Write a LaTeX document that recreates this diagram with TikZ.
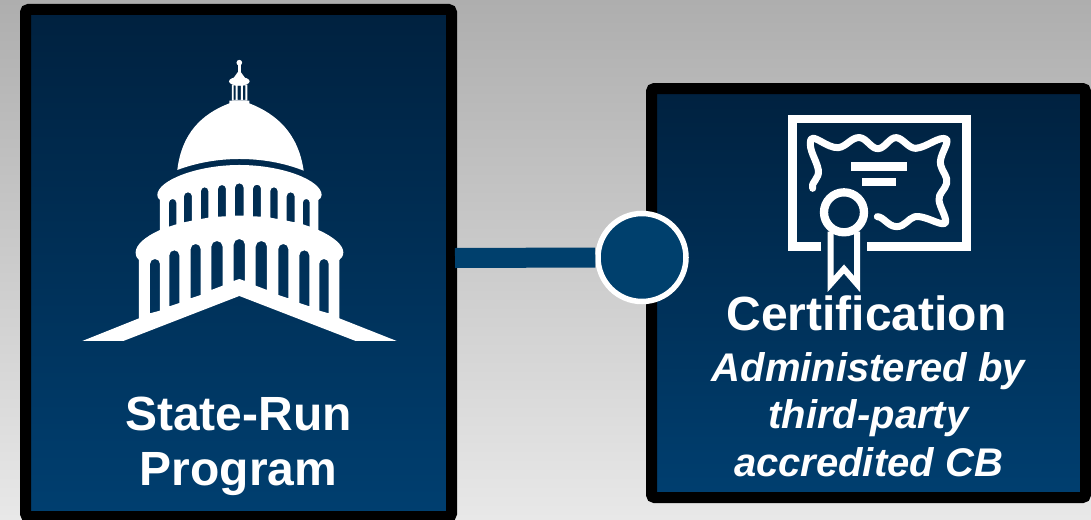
\documentclass[tikz,border=0pt]{standalone}
\usepackage{fontspec}
\setmainfont{Liberation Sans}
\definecolor{boxtop}{HTML}{00213F}
\definecolor{boxbot}{HTML}{003F70}
\definecolor{linkblue}{HTML}{00406D}
\definecolor{bgtop}{HTML}{AEAEAE}
\definecolor{bgbot}{HTML}{E8E8E8}
\tikzset{
  panel/.style={rectangle,draw=black,line width=11pt,rounded corners=3pt,top color=boxtop,bottom color=boxbot,inner sep=0pt},
  hub/.style={circle,draw=white,line width=5.5pt,fill=linkblue,minimum size=88pt,inner sep=0pt},
  link/.style={draw=linkblue,line width=20pt},
  bigtxt/.style={text=white,font=\fontsize{48}{54}\selectfont\bfseries,align=center,anchor=base},
  subtxt/.style={text=white,font=\fontsize{40}{47.5}\selectfont\bfseries\itshape,align=center,anchor=base},
  glyph/.style={white,line width=#1pt},
}
\newcommand{\archwin}[5]{% cx, top, halfwidth, bottom-left, bottom-right
  (#1-#3,#4) -- (#1-#3,#2+#3) arc[start angle=180,end angle=360,radius=#3] -- (#1+#3,#5) -- cycle }
\begin{document}
\begin{tikzpicture}[x=1pt,y=-1pt]
\useasboundingbox (0,0) rectangle (1091,519);
\clip (0,0) rectangle (1091,519);
\shade[top color=bgtop,bottom color=bgbot] (0,0) rectangle (1091,519);
\node[panel,minimum width=426pt,minimum height=507pt] (state) at (238.5,263) {};
\node[panel,minimum width=434pt,minimum height=409pt] (cert) at (868.5,293) {};
\node[hub] (dot) at (642,257.5) {};
\draw[link] ([xshift=-2pt]state.east |- 0,258) coordinate (linkstart) -- (dot.west);
% capitol
\begin{scope}[shift={(70,50)},x=0.3333pt,y=-0.3333pt]
\fill[white] (322,360) .. controls (335,250) and (395,192) .. (478,160) -- (478,152) -- (538,152) -- (538,160)
  .. controls (620,192) and (685,250) .. (701,362) .. controls (640,338) and (575,327) .. (508,327)
  .. controls (445,327) and (380,338) .. (322,360) -- cycle;
\fill[white,even odd rule] (486,152) rectangle (532,104)
  (491,150) rectangle (497,106) (503,150) rectangle (513,106) (519,150) rectangle (526,106);
\fill[white] (508,94) ellipse[x radius=31,y radius=13];
\fill[white] (503,85) -- (503,42) -- (513,42) -- (513,85) -- cycle;
\fill[white] (508,38) circle[radius=8.5];
\fill[white] (508,60) -- (490,85) -- (526,85) -- cycle;
\fill[white,even odd rule]
  (508,345) .. controls (640,345) and (755,392) .. (755,435) .. controls (755,442) and (750,447) .. (745,450)
  -- (745,540) .. controls (790,560) and (820,585) .. (820,607) .. controls (820,618) and (814,626) .. (808,630)
  -- (808,805) -- (980,873) -- (857,873) -- (508,738) -- (160,873) -- (37,873) -- (207,805) -- (207,630)
  .. controls (201,626) and (197,618) .. (197,607) .. controls (197,585) and (225,560) .. (270,540)
  -- (270,450) .. controls (265,447) and (262,442) .. (262,435) .. controls (262,392) and (380,345) .. (508,345) -- cycle
  \archwin{308}{447}{11}{530}{523}
  \archwin{354}{427}{12}{517}{512}
  \archwin{404}{412}{11}{507}{503}
  \archwin{456}{405}{12}{500}{499}
  \archwin{508}{400}{13}{497}{497}
  \archwin{561}{404}{12}{499}{500}
  \archwin{612}{412}{11}{503}{507}
  \archwin{662}{427}{12}{512}{517}
  \archwin{709}{447}{10}{523}{530}
  \archwin{255}{627}{15}{790}{782}
  \archwin{313}{601}{15}{769}{759}
  \archwin{377}{582}{15}{745}{735}
  \archwin{441}{573}{17}{720}{707}
  (491,693) -- (491,584) arc[start angle=180,end angle=360,radius=17] -- (525,693) -- (508,687) -- cycle
  \archwin{574}{573}{17}{707}{720}
  \archwin{640}{582}{15}{735}{745}
  \archwin{703}{601}{15}{759}{769}
  \archwin{762}{627}{14}{782}{790};
\end{scope}
% certificate
\begin{scope}[shift={(770,100)},x=0.3333pt,y=-0.3333pt]
\draw[glyph=8.3] (153,439.5) -- (67.5,439.5) -- (67.5,56.5) -- (589.5,56.5) -- (589.5,439.5) -- (290,439.5);
\draw[glyph=7,line cap=round,line join=round] (128,265)
  .. controls (120,250) and (150,235) .. (145,210)
  .. controls (140,180) and (115,150) .. (122,120)
  .. controls (130,100) and (170,145) .. (205,143)
  .. controls (230,140) and (245,110) .. (270,113)
  .. controls (290,115) and (305,148) .. (325,146)
  .. controls (345,145) and (360,110) .. (380,113)
  .. controls (400,116) and (415,145) .. (437,145)
  .. controls (470,143) and (510,105) .. (530,118)
  .. controls (538,130) and (505,170) .. (512,195)
  .. controls (516,215) and (535,230) .. (530,250)
  .. controls (525,270) and (505,280) .. (507,300)
  .. controls (508,320) and (535,360) .. (525,370)
  .. controls (510,378) and (465,345) .. (435,350)
  .. controls (415,355) and (405,380) .. (380,380)
  .. controls (355,380) and (340,350) .. (322,350);
\fill[white] (243,187) rectangle (412,212);
\fill[white] (277,233) rectangle (377,259);
\draw[glyph=8.3] (222,337) circle[radius=60];
\draw[glyph=6,miter limit=10] (182,395) -- (182,552) -- (222,507) -- (261,552) -- (261,395);
\end{scope}
% text
\node[bigtxt] (t1) at (238.5,430) {State-Run};
\node[bigtxt] (t2) at (238.5,485) {Program};
\node[bigtxt] (t3) at (866.5,330) {Certification};
\node[subtxt] (t4) at (868.5,381) {Administered by};
\node[subtxt] (t5) at (868.5,428) {third-party};
\node[subtxt] (t6) at (868.5,476) {accredited CB};
\end{tikzpicture}
\end{document}
